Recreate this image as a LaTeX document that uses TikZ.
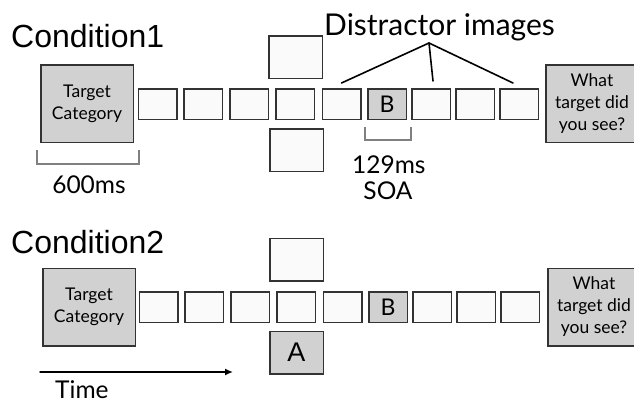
\documentclass[tikz,border=0pt]{standalone}
\usepackage{fontspec}
\setmainfont{Lato}
\newfontfamily\helv{Liberation Sans}
\usetikzlibrary{arrows.meta}

\begin{document}
\begin{tikzpicture}[x=1pt,y=-1pt,>={Latex[length=8pt,width=7pt]},line cap=round,
  slot/.style={draw=black!80,line width=1.5pt,fill=black!2,minimum width=38.5pt,minimum height=30.5pt,inner sep=0pt,font=\fontsize{23}{23}\selectfont},
  side/.style={slot,minimum width=53.5pt,minimum height=42.5pt},
  big/.style={draw=black!80,line width=1.5pt,fill=black!18,minimum width=92.5pt,minimum height=77.5pt,inner sep=0pt,align=center,font=\fontsize{17.5}{22}\selectfont},
  cond/.style={anchor=base west,inner sep=0pt,font=\helv\fontsize{32}{32}\selectfont},
  lbl/.style={inner sep=0pt,font=\fontsize{24.5}{24.5}\selectfont},
  brk/.style={draw=black!50,line width=1.6pt,line cap=butt}]
\useasboundingbox (0,0) rectangle (634,402);
% condition 1
\node[cond] (c1) at (11,47) {Condition1};
\node[big] (tc1) at (87,103.5) {Target\\Category};
\node[slot] (a1) at (157.5,104) {};
\node[slot] (a2) at (203,104) {};
\node[slot] (a3) at (249,104) {};
\node[slot] (a4) at (295,104) {};
\node[slot] (a5) at (341.5,104) {};
\node[slot,fill=black!18] (a6) at (387,104) {B};
\node[slot] (a7) at (431,104) {};
\node[slot] (a8) at (475,104) {};
\node[slot] (a9) at (519,104) {};
\node[side] (up1) at (295.5,57) {};
\node[side] (lo1) at (296.5,150) {};
\node[big] (q1) at (592,103.5) {What\\target did\\you see?};
\node[lbl,anchor=base west,font=\fontsize{30}{30}\selectfont] (dist) at (324,35) {Distractor images};
\coordinate (apex) at (429,43);
\draw[line width=1.6pt] (apex) -- ([yshift=5pt]a5.north);
\draw[line width=1.6pt] (apex) -- ([xshift=2pt,yshift=7pt]a7.north);
\draw[line width=1.6pt] (apex) -- ([xshift=-6pt,yshift=5pt]a9.north);
\draw[brk] (37,150) |- (139,164) -- (139,150);
\draw[brk] (365,127) |- (411,140) -- (411,127);
\node[lbl,anchor=base] (t600) at (89,193) {600ms};
\node[lbl,anchor=base west] (t129) at (352,173) {129ms};
\node[lbl,anchor=base] (soa) at (388,199) {SOA};
% condition 2
\node[cond] (c2) at (11,253) {Condition2};
\node[big] (tc2) at (89,307) {Target\\Category};
\node[slot] (b1) at (158.5,307) {};
\node[slot] (b2) at (204,307) {};
\node[slot] (b3) at (250,307) {};
\node[slot] (b4) at (296,307) {};
\node[slot] (b5) at (342.5,307) {};
\node[slot,fill=black!18] (b6) at (388,307) {B};
\node[slot] (b7) at (432,307) {};
\node[slot] (b8) at (476,307) {};
\node[slot] (b9) at (520,307) {};
\node[side] (up2) at (296.5,259.5) {};
\node[side,fill=black!18,font=\helv\fontsize{27}{27}\selectfont] (la) at (296.5,352.5) {A};
\node[big] (q2) at (594,307) {What\\target did\\you see?};
\coordinate (t0) at (40,372);
\coordinate (t1) at (233,372);
\draw[->,line width=1.5pt] (t0) -- (t1);
\node[lbl,anchor=base west] (time) at (55,398) {Time};
\end{tikzpicture}
\end{document}
